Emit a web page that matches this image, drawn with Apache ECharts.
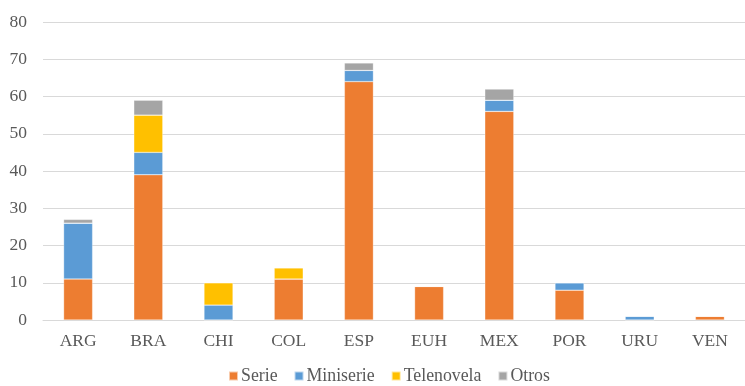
<!DOCTYPE html>
<html>
<head>
<meta charset="utf-8">
<script src="https://cdn.jsdelivr.net/npm/echarts@6/dist/echarts.min.js"></script>
<style>
  html, body { margin: 0; padding: 0; background: #fff; }
  #chart { width: 745px; height: 386px; }
</style>
</head>
<body>
<div id="chart"></div>
<script>
// Producciones por país y formato
const categories = ['ARG', 'BRA', 'CHI', 'COL', 'ESP', 'EUH', 'MEX', 'POR', 'URU', 'VEN'];
const serie      = [11, 39, 0, 11, 64, 9, 56, 8, 0, 1];
const miniserie  = [15, 6, 4, 0, 3, 0, 3, 2, 1, 0];
const telenovela = [0, 10, 6, 3, 0, 0, 0, 0, 0, 0];
const otros      = [1, 4, 0, 0, 2, 0, 3, 0, 0, 0];

const fontFamily = '"Liberation Serif", "Times New Roman", serif';
const textColor = '#595959';

function bar(name, data, color) {
  return {
    name: name,
    type: 'bar',
    stack: 'total',
    data: data,
    barWidth: 29,
    itemStyle: { color: color, borderColor: 'rgba(255,255,255,0.6)', borderWidth: 0.5 }
  };
}

const chart = echarts.init(document.getElementById('chart'), null, { renderer: 'canvas' });
chart.setOption({
  animation: false,
  textStyle: { fontFamily: fontFamily },
  grid: { left: 43, top: 22, width: 712, height: 298, containLabel: false },
  legend: {
    top: 367,
    left: 228,
    itemWidth: 9,
    itemHeight: 9,
    itemGap: 16,
    icon: 'rect',
    padding: 0,
    textStyle: { fontFamily: fontFamily, fontSize: 17.8, color: textColor, padding: [0, 0, 0, -2] },
    data: ['Serie', 'Miniserie', 'Telenovela', 'Otros']
  },
  xAxis: {
    type: 'category',
    data: categories,
    axisTick: { show: false },
    axisLine: { lineStyle: { color: '#d9d9d9', width: 1 } },
    axisLabel: { color: textColor, fontSize: 17.5, fontFamily: fontFamily, margin: 12 }
  },
  yAxis: {
    type: 'value',
    min: 0,
    max: 80,
    interval: 10,
    axisLine: { show: false },
    axisTick: { show: false },
    splitLine: { lineStyle: { color: '#d9d9d9', width: 1 } },
    axisLabel: { color: textColor, fontSize: 17.5, fontFamily: fontFamily, margin: 16 }
  },
  series: [
    bar('Serie', serie, '#ED7D31'),
    bar('Miniserie', miniserie, '#5B9BD5'),
    bar('Telenovela', telenovela, '#FFC000'),
    bar('Otros', otros, '#A5A5A5')
  ]
});
</script>
</body>
</html>
